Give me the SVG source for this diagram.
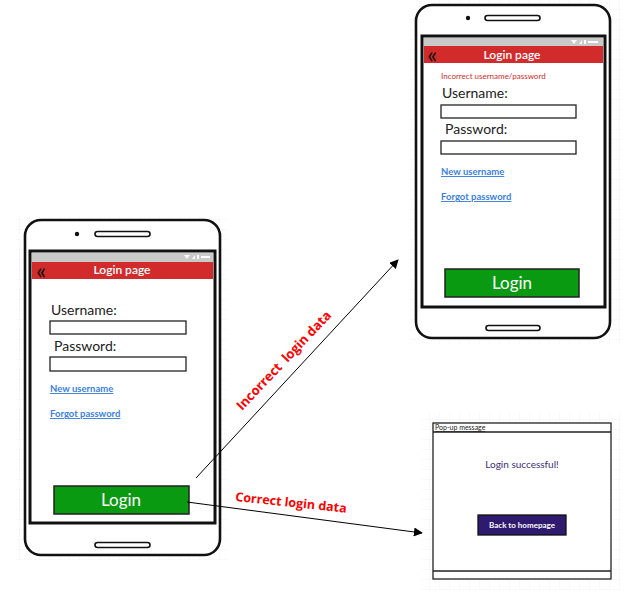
<svg xmlns="http://www.w3.org/2000/svg" width="631" height="598" viewBox="0 0 631 598">
  <defs>
    <pattern id="grid" width="10" height="10" patternUnits="userSpaceOnUse">
      <path d="M10 0 V10 M0 10 H10" fill="none" stroke="#ececec" stroke-width="0.6"/>
    </pattern>
    <marker id="arrow" viewBox="0 0 10 10" refX="9" refY="5" markerWidth="9" markerHeight="9" markerUnits="userSpaceOnUse" orient="auto">
      <path d="M0 0 L10 5 L0 10 Z" fill="#000"/>
    </marker>
    <style>
      .body { fill: #fff; stroke: #111; stroke-width: 2.6; }
      .screen { fill: #fff; stroke: #111; stroke-width: 3; }
      .status { fill: #c9c9c9; }
      .bar { fill: #d22b2b; }
      .slot { fill: #fff; stroke: #111; stroke-width: 1.6; }
      .ui { font-family: Lato, "Noto Sans", sans-serif; }
      .title { font-size: 12px; fill: #fff; text-anchor: middle; font-weight: 600; }
      .back { font-size: 24px; fill: #111; }
      .label { font-size: 14px; fill: #222; }
      .field { fill: #fff; stroke: #222; stroke-width: 1.3; }
      .link { font-size: 9.5px; fill: #3d7fe0; text-decoration: underline; font-weight: bold; }
      .btn { fill: #0a9a12; stroke: #222; stroke-width: 1.5; }
      .btntext { font-size: 17px; fill: #fff; text-anchor: middle; }
      .err { font-size: 8px; fill: #d22b2b; }
      .edge { fill: none; stroke: #000; stroke-width: 1; marker-end: url(#arrow); }
      .edgelabel { font-family: "Open Sans", "Liberation Sans", sans-serif; font-weight: bold; fill: #ff0000; white-space: pre; }
    </style>
  </defs>

  <rect width="631" height="598" fill="#fff"/>
  <rect x="15" y="215" width="213" height="345" fill="url(#grid)"/>
  <rect x="410" y="0" width="212" height="345" fill="url(#grid)"/>
  <rect x="422" y="412" width="198" height="178" fill="url(#grid)"/>

  <!-- Login screen, initial state -->
  <g id="phone-login">
    <rect class="body" x="25" y="220" width="195" height="335" rx="16"/>
    <circle cx="77" cy="234" r="2.2" fill="#111"/>
    <rect class="slot" x="95" y="231.5" width="55" height="5" rx="2.5"/>
    <rect class="screen" x="30" y="251" width="185" height="272"/>
    <rect class="status" x="32" y="253" width="181" height="9"/>
    <path d="M184 255 h6 l-3 4 z M192 259 h3 v-4 z M197 255 h2 v4 h-2 z M201 256 h9 v2 h-9 z" fill="#fff"/>
    <rect class="bar" x="32" y="262" width="181" height="17"/>
    <text class="ui back" x="36" y="279">«</text>
    <text class="ui title" x="122" y="274">Login page</text>
    <text class="ui label" x="51" y="315">Username:</text>
    <rect class="field" x="50" y="321" width="136" height="13"/>
    <text class="ui label" x="54" y="351">Password:</text>
    <rect class="field" x="50" y="357" width="136" height="14"/>
    <text class="ui link" x="50" y="392">New username</text>
    <text class="ui link" x="50" y="417">Forgot password</text>
    <rect class="btn" x="54" y="486" width="135" height="28"/>
    <text class="ui btntext" x="121" y="506">Login</text>
    <rect class="slot" x="95" y="542.5" width="55" height="5" rx="2.5"/>
  </g>

  <!-- Login screen after a failed attempt -->
  <g id="phone-error">
    <rect class="body" x="416" y="5" width="194" height="333" rx="16"/>
    <circle cx="468" cy="18" r="2.2" fill="#111"/>
    <rect class="slot" x="485" y="15.5" width="55" height="5" rx="2.5"/>
    <rect class="screen" x="422" y="36" width="183" height="271"/>
    <rect class="status" x="424" y="38" width="179" height="8"/>
    <path d="M571 40 h6 l-3 4 z M579 44 h3 v-4 z M584 40 h2 v4 h-2 z M588 41 h10 v2 h-10 z" fill="#fff"/>
    <rect class="bar" x="424" y="46" width="179" height="17"/>
    <text class="ui back" x="427" y="63">«</text>
    <text class="ui title" x="512" y="59">Login page</text>
    <text class="ui err" x="441" y="79">Incorrect username/password</text>
    <text class="ui label" x="442" y="98">Username:</text>
    <rect class="field" x="441" y="105" width="135" height="13"/>
    <text class="ui label" x="445" y="134">Password:</text>
    <rect class="field" x="441" y="141" width="135" height="13"/>
    <text class="ui link" x="441" y="175">New username</text>
    <text class="ui link" x="441" y="200">Forgot password</text>
    <rect class="btn" x="445" y="269" width="134" height="28"/>
    <text class="ui btntext" x="512" y="289">Login</text>
    <rect class="slot" x="486" y="325.5" width="54" height="5" rx="2.5"/>
  </g>

  <!-- Success pop-up -->
  <g id="popup-success">
    <rect x="433" y="423" width="178" height="156" fill="#fff" stroke="#222" stroke-width="1.3"/>
    <line x1="433" y1="432" x2="611" y2="432" stroke="#222" stroke-width="1.3"/>
    <text class="ui" x="435" y="430" font-size="7" fill="#222" text-decoration="underline">Pop-up message</text>
    <text class="ui" x="522" y="468" font-size="10" fill="#3a2d7a" text-anchor="middle">Login successful!</text>
    <rect x="478" y="515" width="88" height="20" fill="#2e1a6e" stroke="#111" stroke-width="1.3"/>
    <text class="ui" x="522" y="528" font-size="8" font-weight="bold" fill="#fff" text-anchor="middle">Back to homepage</text>
    <line x1="433" y1="571" x2="611" y2="571" stroke="#222" stroke-width="1.3"/>
  </g>

  <!-- Transitions -->
  <g id="connectors">
    <line class="edge" x1="196" y1="478" x2="398" y2="260"/>
    <line class="edge" x1="187" y1="502" x2="422" y2="533"/>
    <text class="edgelabel" font-size="13" transform="translate(242 411) rotate(-46.5)">Incorrect  login data</text>
    <text class="edgelabel" font-size="12.5" transform="translate(235 501) rotate(6)">Correct login data</text>
  </g>
</svg>
